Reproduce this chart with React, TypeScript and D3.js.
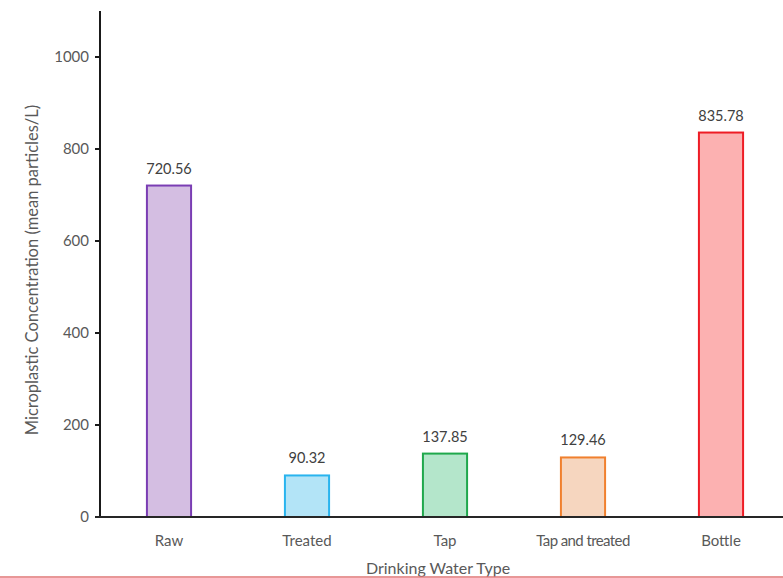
import React from "react";
import * as d3 from "d3";

const categories = ["Raw", "Treated", "Tap", "Tap and treated", "Bottle"];
const values = [720.56, 90.32, 137.85, 129.46, 835.78];
const valueLabels = ["720.56", "90.32", "137.85", "129.46", "835.78"];
const yTicks = [0, 200, 400, 600, 800, 1000];
const fills = ["#d4bee2", "#b3e4f7", "#b4e6cb", "#f6d6bf", "#fcb1b1"];
const strokes = ["#7a3db3", "#29b4ee", "#1fa84c", "#f0802e", "#ee1c25"];

export default function App() {
  const W = 783, H = 578;
  const x = d3.scaleBand<string>().domain(categories).range([100, 790]).paddingInner(0.68).paddingOuter(0.34);
  const y = d3.scaleLinear().domain([0, 1100]).range([517, 11]);
  const font = "Lato, 'Open Sans', sans-serif";
  const textColor = "#595959";
  return (
    <svg width={W} height={H} style={{ position: "absolute", left: 0, top: 0, background: "#fff" }} fontFamily={font}>
      {categories.map((c, i) => {
        const x0 = x(c)!;
        const bw = x.bandwidth();
        return (
          <g key={c}>
            <rect x={x0} y={y(values[i])} width={bw} height={y(0) - y(values[i])} fill={fills[i]} stroke={strokes[i]} strokeWidth={2} />
            <text x={x0 + bw / 2} y={y(values[i]) - 12} textAnchor="middle" fontSize={14.5} fill="#404040">{valueLabels[i]}</text>
            <text x={x0 + bw / 2} y={546} textAnchor="middle" fontSize={15} fill={textColor} letterSpacing={c === "Tap and treated" ? -0.6 : 0}>{c}</text>
          </g>
        );
      })}
      {/* y axis */}
      <line x1={100} x2={100} y1={y(1100)} y2={y(0)} stroke="#1a1a1a" strokeWidth={2} />
      {yTicks.map((t) => (
        <g key={t}>
          <line x1={95} x2={100} y1={y(t)} y2={y(t)} stroke="#1a1a1a" strokeWidth={2} />
          <text x={89} y={y(t)} dy="0.35em" textAnchor="end" fontSize={15} fill={textColor}>{t}</text>
        </g>
      ))}
      {/* x axis */}
      <line x1={95} x2={783} y1={y(0)} y2={y(0)} stroke="#262626" strokeWidth={2} />
      <text x={438} y={574} textAnchor="middle" fontSize={16} fill={textColor}>Drinking Water Type</text>
      <text transform={`translate(38,270) rotate(-90)`} textAnchor="middle" fontSize={16.5} fill={textColor}>Microplastic Concentration (mean particles/L)</text>
      <line x1={0} x2={783} y1={577} y2={577} stroke="#e07474" strokeWidth={1.5} />
    </svg>
  );
}
